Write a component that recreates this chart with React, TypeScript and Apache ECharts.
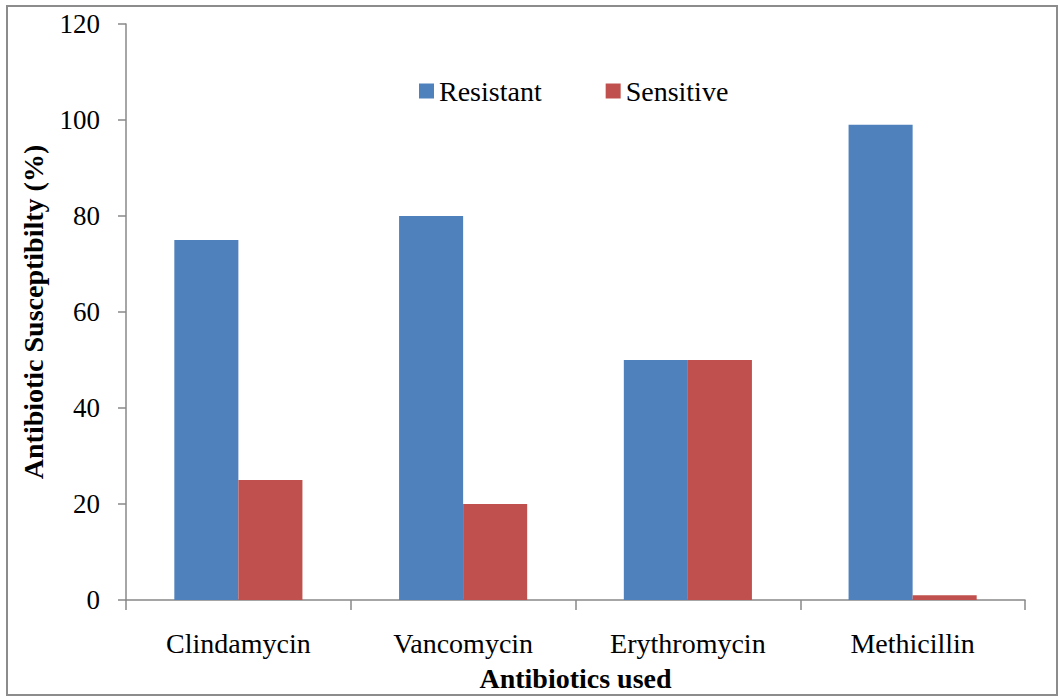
import React, { useEffect, useRef } from "react";
import * as echarts from "echarts";

const categories = ["Clindamycin", "Vancomycin", "Erythromycin", "Methicillin"];
const resistant = [75, 80, 50, 99];
const sensitive = [25, 20, 50, 1];
const yTicks = { min: 0, max: 120, interval: 20 };

export default function App() {
  const ref = useRef<HTMLDivElement>(null);
  useEffect(() => {
    if (!ref.current) return;
    const chart = echarts.init(ref.current, null, { renderer: "svg" });
    const font = "Liberation Serif";
    chart.setOption({
      animation: false,
      backgroundColor: "#ffffff",
      textStyle: { fontFamily: font },
      graphic: [
        {
          type: "rect",
          shape: { x: 7, y: 6, width: 1050, height: 689 },
          style: { fill: "none", stroke: "#8c8c8c", lineWidth: 2 },
          silent: true,
        },
      ],
      legend: {
        data: ["Resistant", "Sensitive"],
        top: 72,
        left: 414,
        itemWidth: 15,
        itemHeight: 15,
        itemGap: 64,
        icon: "rect",
        textStyle: { fontFamily: font, fontSize: 28, color: "#000" },
      },
      grid: { left: 126, width: 899, top: 24, height: 576, outerBoundsMode: "none", containLabel: false },
      xAxis: {
        type: "category",
        data: categories,
        name: "Antibiotics used",
        nameLocation: "middle",
        nameGap: 64,
        nameMoveOverlap: false,
        nameTextStyle: { fontFamily: font, fontSize: 28, fontWeight: "bold", color: "#000" },
        axisLine: { lineStyle: { color: "#888", width: 1.5 } },
        axisTick: { show: true, length: 10, lineStyle: { color: "#888", width: 1.5 } },
        axisLabel: { fontFamily: font, fontSize: 28, color: "#000", margin: 29 },
      },
      yAxis: {
        type: "value",
        min: yTicks.min,
        max: yTicks.max,
        interval: yTicks.interval,
        name: "Antibiotic Susceptibilty (%)",
        nameLocation: "middle",
        nameGap: 79,
        nameMoveOverlap: false,
        nameTextStyle: { fontFamily: font, fontSize: 28, fontWeight: "bold", color: "#000" },
        splitLine: { show: false },
        axisLine: { show: true, lineStyle: { color: "#888", width: 1.5 } },
        axisTick: { show: true, length: 8, lineStyle: { color: "#888", width: 1.5 } },
        axisLabel: { fontFamily: font, fontSize: 27, color: "#000", margin: 26 },
      },
      series: [
        {
          name: "Resistant",
          type: "bar",
          data: resistant,
          itemStyle: { color: "#4F81BD" },
          barGap: "0%",
          barCategoryGap: "43%",
        },
        {
          name: "Sensitive",
          type: "bar",
          data: sensitive,
          itemStyle: { color: "#C0504D" },
          barGap: "0%",
          barCategoryGap: "43%",
        },
      ],
    });
    return () => chart.dispose();
  }, []);
  return (
    <div
      ref={ref}
      style={{ position: "absolute", left: 0, top: 0, width: 1060, height: 696 }}
    />
  );
}
